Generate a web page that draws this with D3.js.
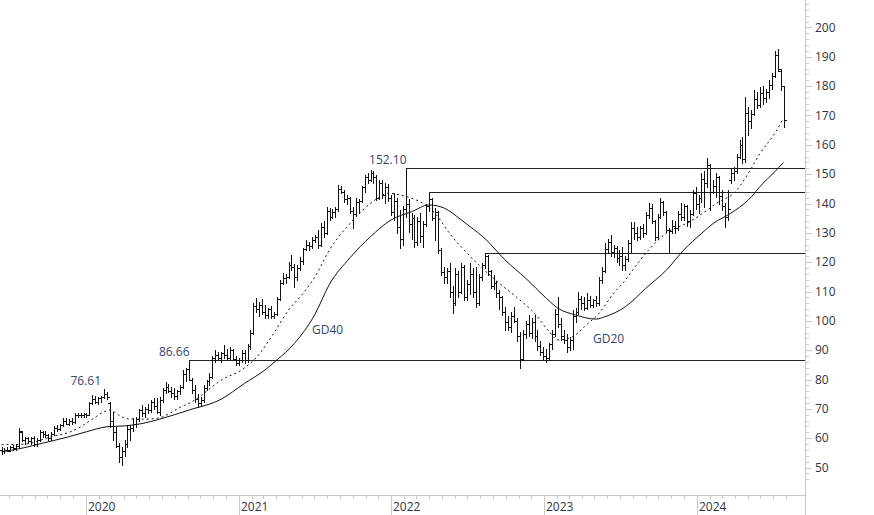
<!DOCTYPE html>
<html><head><meta charset="utf-8">
<script src="https://cdnjs.cloudflare.com/ajax/libs/d3/7.8.5/d3.min.js"></script>
<style>
html,body{margin:0;padding:0;background:#fff;}
svg{display:block;}
text{font-family:"Open Sans","Noto Sans",sans-serif;}
</style></head>
<body>
<svg id="c" width="874" height="515"></svg>
<script>
// ---- data (weekly bars, first bar week of 2019-06-14) ----
const firstWeek = "2019-06-14";
const open = [
56,55.5,56,56,57,56.5,57.5,62,59.5,60, 59,60,58,59.5,62,61.5,61,60,61.5,63.5,
63,64.5,66,65,66,65.5,68,68,67.8,68.2, 68,72,73.5,72.5,73.8,74,75.2,72,66,62,
57.5,53.5,55.5,58,63,63.5,65,66.5,69.5,68.5, 70,69.5,72.5,71,69,73,76.5,77.5,76,75.5,
74.5,76,77.5,82,83.5,80,76.5,73.5,72,73, 77,79.5,81,87.5,88.5,87.5,89,88.5,87.5,90,
87,85.8,86.5,89,86.5,91.5,96,105,104,105.5, 103,102,104,101.5,102.5,107.5,113,114.5,115,119,
118.5,115,118,120.5,124.5,126,125.5,127.5,128.5,126, 132,130,137.5,135.5,137,138,145,144,141.5,142,
137.5,136.5,140.5,141,145.5,149,148,150.5,149,142, 147,143,145.5,142,137,141,132,128,138,140,
133,135,127,134,129,133,139,141.5,135,137, 124,116.5,115,117,110,106,116,110,118.5,108,
112.5,116,110,106,115,119,122,117,112,113, 109.5,108,103,99.5,98,101.5,100,95,87,95.5,
99,96,99.5,95,91.5,89.5,88,87.5,92,95.5, 102.5,99,95,93.5,91,93.5,101.5,103,107.5,106,
104.5,107,105.5,107,106,114,117,124.5,127,123.5, 125,121.5,122,119,121,126.5,131.5,130,128.5,131.5,
130,136,138.5,134,128.5,135.5,140.5,137,131,130.5, 132.5,131.5,136.5,135.5,139,134,136.5,143.5,140,142,
148.5,147,153,144,146,149,142.5,139,135.5,148, 150.5,151,156,160,155,171,168,170.5,175.5,173.5,
177.5,176,178,180.5,183.5,190.5,185,180];
const high = [
57,56.5,57,57.5,57.8,58,63.5,62.5,60.5,60.5, 60.5,60.8,60,62.8,62.5,62.3,61.5,62,64,64.5,
65,67,66.8,66.5,66.9,68.6,68.6,68.5,68.6,68.6, 72.3,74.7,74.5,74,74.5,76.61,75.8,72.5,69,63.8,
58.4,57,59.4,64.5,64.5,67,67.2,70,71.3,70.5, 71.8,73,73.7,73.7,74,77,79,78.5,77.4,77,
76.5,78,83.2,84,86.66,80.5,78,75,74,78, 80,82.2,88,90,89.5,89.5,91.8,90.5,91,90.5,
88,87.5,90,90,92,97,106,107.8,106.5,107.5, 105.4,104.5,105,103,108,114,116.3,116,120,122.5,
119.5,119,121.8,125,127.6,127,128.5,129.3,131,133.3, 134,138.8,138.5,138,138.8,146.3,146,144.6,143,142.2,
138.8,141.9,141.5,146,149.7,150.5,151.4,151,149.7,148, 148,147,146.5,143,143.6,142,137.8,139,152.1,141.5,
136.8,136,135.5,136.8,134,140,144,142,138.5,137.5, 125,118.4,118,119.7,112,118,117,119.7,119,114,
119.7,118,118.4,116,119.7,123,122.5,117.5,115.6,113.5, 110.5,108.5,104.7,101.5,103,104.7,101,96.2,97,100,
102,101,102,96.9,93,91,90.5,92.5,96.9,104, 108.1,101,96.9,95.5,94.5,103.7,104.5,109.8,108.5,108,
109.5,108.5,107.5,108.5,115,118.4,126.5,128,129.3,126, 125.5,124,125.2,122,127.6,133.7,133.7,132,132.5,133,
137,140.2,140,134.5,136.5,141.9,141,137.5,131.5,134.4, 134,137.5,140.2,140,139.5,137.8,144.5,145.6,143,150.4,
151,155.5,153.5,148,150.4,149.5,144.6,140.2,144.6,152, 152.4,157,161.6,162.7,176.3,173,172,178.7,178,179.7,
180,179,182,184.5,192,192.8,185.8,180];
const low = [
54.5,54.8,55.5,55.5,56,56,57,59,58,58.5, 58.2,57.5,57.5,59,60.5,60.5,59.4,59.5,61,62.5,
62.8,64,64.8,64.5,65,65.3,67.2,67.3,67.3,67.4, 68,71.5,72,71.8,72.5,73.8,73.5,63.8,59.4,57,
52,51,54,57,59.4,62.5,63.8,66,67.5,67.2, 68.6,69,70,68.6,67.9,72.5,75.5,75.8,74,73.5,
73.5,75,77,79.5,79.8,75.4,72.5,70.6,71,72.5, 76.4,78,80.5,86,86.5,86,87.5,86.7,87,86.5,
85,85,86,85.6,86,90.5,95.5,103,101.5,102.5, 101,101,101,101,102,107,112.5,113,114.5,117.3,
111.5,114,117.5,119.5,124,124.2,125,126.9,125,125.5, 128.6,129.5,134.4,135,135.4,137.5,143.6,140.5,140,136.8,
131.6,136,136.8,140.5,143.9,147,147.5,147,141.2,141.5, 142,140.2,141,136,134.4,130,124.8,126,135.4,130.3,
128,125.2,126,127,125.2,132.5,137.5,134.4,127.6,123.1, 115.6,112.9,113,108,102.7,105.5,108.1,109.5,107.1,107,
109,108,104.7,105.5,114,118,115.6,111.2,111,108.1, 104,102,97,97,96.2,99.5,93,83.9,86.5,94,
95,94,93,90.2,88.5,86.5,86,87,90.5,95, 98,93.5,92.5,89.4,90,90.5,99.5,102.5,104,103.7,
104,104.7,104.8,105,105.5,113,116.5,123,122,121.8, 120,119,117.3,117.5,120.5,123.1,128,127.6,128,128.5,
129.5,135,133.3,127.6,128,135,136.1,130.3,123.1,130, 130,131,134.4,134.5,132.5,132,136,138,136.8,140.5,
138.8,145.6,137.8,143.5,142.2,140,137.8,132,134.5,147, 148,150.5,155.5,153.8,154,163.5,165.7,170,172.5,173,
174,174.5,176,179,183,185,178.7,166];
const close = [
55.5,56,55.8,57,56.5,57.5,62.5,59.5,60,59, 60,58,59.5,62,61.5,61,60,61.5,63.5,63,
64.5,66,65,66,65.5,68,68,67.8,68.2,68, 72,73.5,72.5,73.8,74,75.2,74.2,66,62,57.5,
53.5,55.5,58,63,63.5,65,66.5,69.5,68.5,70, 69.5,72.5,71,69,73,76.5,77.5,76,75.5,74.5,
76,77.5,82,83.5,80,76.5,73.5,72,73,77, 79.5,81,87.5,88.5,87.5,89,88.5,87.5,90,87,
85.8,86.5,89,86.5,91.5,96,105,104,105.5,103, 102,104,101.5,102.5,107.5,113,114.5,115,119,118.5,
115,118,120.5,124.5,126,125.5,127.5,128.5,126,132, 130,137.5,135.5,137,138,145,144,141.5,142,137.5,
136.5,140.5,141,145.5,149,148,150.5,149,142,147, 143,145.5,142,137,141,132,128,138,140,133,
135,127,134,129,133,139,141.5,135,137,124, 116.5,115,117,110,106,116,110,118.5,108,112.5,
116,110,106,115,119,122,117,112,113,109.5, 108,103,99.5,98,101.5,100,95,87,95.5,99,
96,99.5,95,91.5,89.5,88,87.5,92,95.5,102.5, 99,95,93.5,91,93.5,101.5,103,107.5,106,104.5,
107,105.5,107,106,114,117,124.5,127,123.5,125, 121.5,122,119,121,126.5,131.5,130,128.5,131.5,130,
136,138.5,134,128.5,135.5,140.5,137,131,130.5,132.5, 131.5,136.5,135.5,139,134,136.5,143.5,140,142,148.5,
147,153,144,146,149,142.5,139,135.5,138,150.5, 151,156,160,155,171,168,170.5,175.5,173.5,177.5,
176,178,180.5,183.5,190.5,186,180,168.5];

// moving averages (bar index, value)
const gd20Bar = [0,8,17,23,27,31,35,37,41,44,49,54,61,66,70,75,82,87,93,98,103,107,112,119,126,132,136,140,144,148,153,160,163,170,177,182,187,190,195,199,204,209,213,216,221,227,235,241,245,250,255,259,264,267];
const gd20Val = [57.8,58,60.5,62,63.9,66.5,69,69.6,67.3,66.5,66.5,67,70.5,73,76,79.8,83.3,87.5,95.8,103.7,109.4,115,124.2,133.2,140,143.5,142.9,141.8,140,136.7,129.8,122,119,112.8,107.1,102.6,96.3,93.5,94.6,98,102.6,109.4,113.9,118,124.2,129.9,133.8,137.8,140.6,143.5,150.3,157.1,163.9,169];
const gd40Bar = [0,7,14,23,29,36,42,48,54,64,75,83,90,94,100,107,112,119,126,133,140,146,151,157,160,165,172,179,186,190,196,203,206,213,220,227,233,239,243,249,255,260,264,267];
const gd40Val = [55.4,56.6,58.3,60.5,62.2,63.9,64.2,65,66.5,69.6,73.3,78.7,83.3,86.66,92.3,102.2,112.5,121.5,128.7,134.4,137.2,139.5,138.5,134.4,132.1,128.1,120.7,114.5,107.7,104.3,102,100.6,101.4,104.8,111.1,117.3,124.2,129.8,133.2,136.7,141.2,146.9,150.8,154];

// horizontal levels
const levelValue = [152.10,144.0,123.0,86.66];
const levelBar = [138,146,165,64];
const levelText = ["152.10","","","86.66"];
const peakValue = [76.61];
const peakBar = [35];
const peakText = ["76.61"];

const yTicks = [50,60,70,80,90,100,110,120,130,140,150,160,170,180,190,200];
const yearTicks = ["2020","2021","2022","2023","2024"];
const maLabels = ["GD40","GD20"];

// ---- drawing ----
const W = 874, H = 515, axisX = 805, axisY = 495;
const svg = d3.select("#c");
const n = close.length;
const t0 = d3.timeParse("%Y-%m-%d")(firstWeek);
const dates = d3.range(n).map(i => d3.timeWeek.offset(t0, i));
const x = d3.scaleTime().domain([dates[0], dates[n-1]]).range([1.5, 783.5]);
const y = d3.scaleLinear().domain([50, 200]).range([467.56, 27.46]);
const bx = i => Math.round(x(dates[i]));

// axes
const ax = svg.append("g");
ax.append("line").attr("x1",0).attr("x2",axisX).attr("y1",axisY+0.5).attr("y2",axisY+0.5).attr("stroke","#c8c8c8");
ax.append("line").attr("x1",axisX+0.5).attr("x2",axisX+0.5).attr("y1",0).attr("y2",H).attr("stroke","#c8c8c8");
d3.range(46, 210, 2).forEach(v => {
  const yy = Math.round(y(v)) + 0.5;
  const major = v % 10 === 0;
  ax.append("line").attr("x1",axisX+1).attr("x2",axisX+(major?7:4)).attr("y1",yy).attr("y2",yy).attr("stroke","#c8c8c8");
});
svg.append("g").selectAll("text").data(yTicks).join("text")
  .attr("x", axisX + 10).attr("y", d => y(d)).attr("dy","0.35em")
  .attr("font-size", 12).attr("fill","#2f3440").text(d => d);
const months = d3.timeMonth.range(new Date(2019,6,1), new Date(2024,8,1));
months.forEach(m => {
  const xx = Math.round(x(m)) + 0.5;
  if (xx > axisX) return;
  const isYear = m.getMonth() === 0;
  ax.append("line").attr("x1",xx).attr("x2",xx).attr("y1",axisY+1).attr("y2",isYear?H:axisY+4).attr("stroke","#c8c8c8");
});
svg.append("g").selectAll("text").data(yearTicks).join("text")
  .attr("x", d => Math.round(x(new Date(+d,0,1))) + 2).attr("y", 510.5)
  .attr("font-size", 12).attr("fill","#2f3440").text(d => d);

// moving averages
const line = d3.line().curve(d3.curveMonotoneX);
svg.append("path").attr("d", line(gd40Bar.map((b,k)=>[x(dates[b]), y(gd40Val[k])])))
  .attr("fill","none").attr("stroke","#111").attr("stroke-width",1);
svg.append("path").attr("d", line(gd20Bar.map((b,k)=>[x(dates[b]), y(gd20Val[k])])))
  .attr("fill","none").attr("stroke","#111").attr("stroke-width",1).attr("stroke-dasharray","2,3");

// levels
const lv = svg.append("g");
levelValue.forEach((v,k) => {
  const yy = Math.round(y(v)) + 0.5;
  const xs = bx(levelBar[k]) + 0.5;
  lv.append("line").attr("x1",xs).attr("x2",axisX).attr("y1",yy).attr("y2",yy).attr("stroke","#222");
  if (levelText[k]) lv.append("text").attr("x", xs).attr("y", yy-5).attr("text-anchor","end")
    .attr("font-size",12).attr("fill","#34456a").text(levelText[k]);
});
peakValue.forEach((v,k) => {
  lv.append("text").attr("x", bx(peakBar[k]) - 3).attr("y", y(v)-4).attr("text-anchor","end")
    .attr("font-size",12).attr("fill","#34456a").text(peakText[k]);
});
svg.append("text").attr("x",312).attr("y",334).attr("font-size",12).attr("fill","#34456a").text(maLabels[0]);
svg.append("text").attr("x",593).attr("y",343).attr("font-size",12).attr("fill","#34456a").text(maLabels[1]);

// OHLC bars
const g = svg.append("g").attr("fill","#111");
d3.range(n).forEach(i => {
  const xi = bx(i);
  const yh = Math.round(y(high[i])), yl = Math.round(y(low[i]));
  g.append("rect").attr("x", xi).attr("y", yh).attr("width", 1).attr("height", Math.max(1, yl - yh + 1));
  g.append("rect").attr("x", xi-2).attr("y", Math.round(y(open[i]))).attr("width", 2).attr("height", 1);
  g.append("rect").attr("x", xi+1).attr("y", Math.round(y(close[i]))).attr("width", 2).attr("height", 1);
});
</script>
</body></html>
